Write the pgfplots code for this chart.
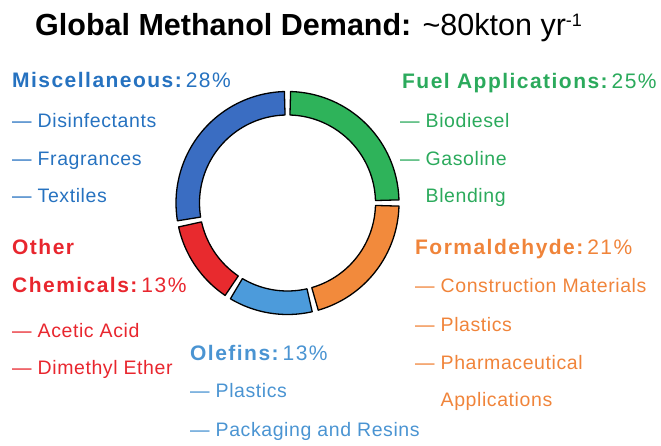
\documentclass[border=0pt]{standalone}
\usepackage{fontspec}
\setmainfont{Liberation Sans}
\newfontfamily\headfam{Liberation Sans}[LetterSpace=7]
\newfontfamily\subfam{Liberation Sans}[LetterSpace=3]
\usepackage{pgfplots}
\usepackage{pgfplotstable}
\pgfplotsset{compat=1.18}

% ring colours
\definecolor{fuelc}{HTML}{2EB35A}
\definecolor{formc}{HTML}{F28A3C}
\definecolor{olec}{HTML}{4C9BDB}
\definecolor{othc}{HTML}{E82A2E}
\definecolor{miscc}{HTML}{3A6DC2}
% text colours
\definecolor{fuelt}{HTML}{2BAA5C}
\definecolor{formt}{HTML}{F0843A}
\definecolor{olet}{HTML}{4A94D2}
\definecolor{otht}{HTML}{E8262E}
\definecolor{misct}{HTML}{2672C0}

% share of demand in %, clockwise from 12 o'clock
\pgfplotstableread{
share col
25 fuelc
21 formc
13 olec
13 othc
28 miscc
}\demand

\newcommand{\hfont}{\headfam\fontsize{21}{24}\selectfont}
\newcommand{\sfont}{\subfam\fontsize{19.5}{22}\selectfont}
\newcommand{\sep}{\hspace{0.12em}}
\def\Ro{111.5}
\def\Ri{88}
\def\gap{1.6}

\begin{document}
\begin{tikzpicture}
\path[use as bounding box] (0pt,0pt) rectangle (661pt,446pt);

\begin{axis}[
    at={(287.5pt,243pt)}, anchor=center,
    scale only axis, width=240pt, height=240pt,
    xmin=-120, xmax=120, ymin=-120, ymax=120,
    hide axis, clip=false,
]
\pgfplotstablegetrowsof{\demand}
\pgfmathtruncatemacro{\lastrow}{\pgfplotsretval-1}
\def\acc{90}
\pgfplotsforeachungrouped \i in {0,...,\lastrow}{%
  \pgfplotstablegetelem{\i}{share}\of\demand
  \let\sh\pgfplotsretval
  \pgfplotstablegetelem{\i}{col}\of\demand
  \let\cl\pgfplotsretval
  \pgfmathsetmacro{\angA}{\acc-\gap}
  \pgfmathsetmacro{\dA}{-3.6*\sh+2*\gap}
  \pgfmathsetmacro{\acc}{\acc-3.6*\sh}
  \edef\temp{\noexpand\addplot[fill=\cl, draw=black, line width=1.3pt,
      line join=round, domain=0:3, samples=151]
    ({(\Ro-(\Ro-\Ri)*min(max(x-1,0),1))*cos((\angA)+(\dA)*min(x,1)-(\dA)*max(x-2,0))},
     {(\Ro-(\Ro-\Ri)*min(max(x-1,0),1))*sin((\angA)+(\dA)*min(x,1)-(\dA)*max(x-2,0))})
    -- cycle;}
  \temp
}
\end{axis}

\begin{scope}[x=1pt, y=-1pt, yshift=446pt,
    every node/.style={anchor=base west, inner sep=0pt}]
\node[font=\fontsize{30.5}{35}\selectfont] at (35,36)
  {\textbf{Global Methanol Demand:} \textasciitilde80kton yr{\fontsize{18}{20}\selectfont\raisebox{0.5em}{-1}}};

% left column
\node[text=misct, font=\hfont] at (12,88) {\textbf{Miscellaneous:}\sep28\%};
\node[text=misct, font=\sfont] at (12,128) {— Disinfectants};
\node[text=misct, font=\sfont] at (12,166) {— Fragrances};
\node[text=misct, font=\sfont] at (12,203) {— Textiles};
\node[text=otht, font=\hfont] at (12,255) {\textbf{Other}};
\node[text=otht, font=\hfont] at (12,293) {\textbf{Chemicals:}\sep13\%};
\node[text=otht, font=\sfont] at (12,338) {— Acetic Acid};
\node[text=otht, font=\sfont] at (12,375) {— Dimethyl Ether};

% bottom
\node[text=olet, font=\hfont] at (190,361) {\textbf{Olefins:}\sep13\%};
\node[text=olet, font=\sfont] at (190,398) {— Plastics};
\node[text=olet, font=\sfont] at (190,437) {— Packaging and Resins};

% right column
\node[text=fuelt, font=\hfont] at (402,89) {\textbf{Fuel Applications:}\sep25\%};
\node[text=fuelt, font=\sfont] at (400,128) {— Biodiesel};
\node[text=fuelt, font=\sfont] at (400,166) {— Gasoline};
\node[text=fuelt, font=\sfont] at (400,203) {\phantom{— }Blending};
\node[text=formt, font=\hfont] at (415,255) {\textbf{Formaldehyde:}\sep21\%};
\node[text=formt, font=\sfont] at (415,293) {— Construction Materials};
\node[text=formt, font=\sfont] at (415,332) {— Plastics};
\node[text=formt, font=\sfont] at (415,370) {— Pharmaceutical};
\node[text=formt, font=\sfont] at (415,407) {\phantom{— }Applications};
\end{scope}
\end{tikzpicture}
\end{document}
